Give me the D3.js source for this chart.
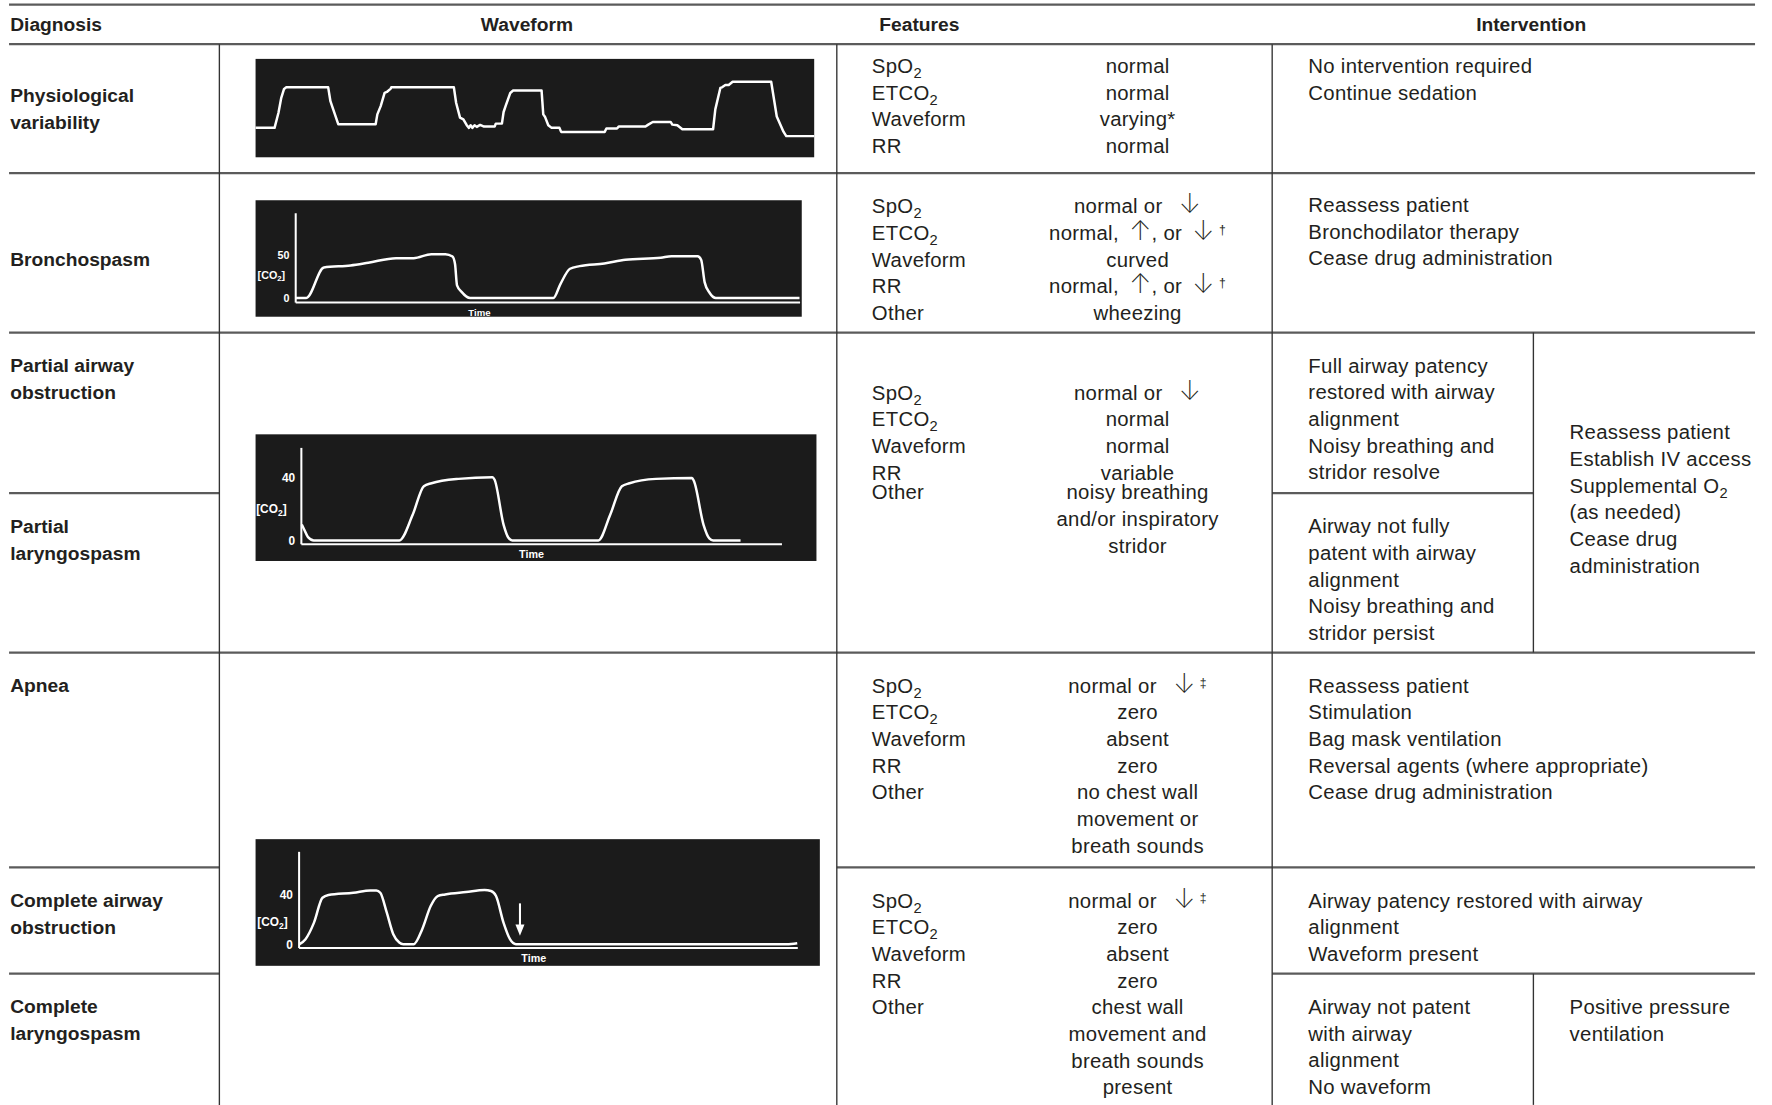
<!DOCTYPE html>
<html>
<head>
<meta charset="utf-8">
<script src="https://cdn.jsdelivr.net/npm/d3@7"></script>
<style>
  body { margin: 0; background: #fff; }
  svg { display: block; }
  .txt { font-family: "Liberation Sans", Arial, sans-serif; font-size: 18px; letter-spacing: 0.25px; fill: #231f20; white-space: pre; }
  .bold { font-family: "Liberation Sans", Arial, sans-serif; font-size: 17px; font-weight: bold; fill: #231f20; }
  .wave-label { font-family: "Liberation Sans", Arial, sans-serif; font-weight: bold; fill: #fff; }
  .arrow { font-family: Inter, "DejaVu Sans", sans-serif; font-weight: 200; }
</style>
</head>
<body>
<div id="chart"></div>
<script>
// ---- table text ----
const headers = ['Diagnosis', 'Waveform', 'Features', 'Intervention']

const diagnosisNames = [
  ['Physiological', 'variability'],
  ['Bronchospasm'],
  ['Partial airway', 'obstruction'],
  ['Partial', 'laryngospasm'],
  ['Apnea'],
  ['Complete airway', 'obstruction'],
  ['Complete', 'laryngospasm']
]

// _x = subscript char, ^x = superscript char, arrows get their own glyph style
const featuresVariability = [
  ['SpO_2', ['normal']], ['ETCO_2', ['normal']], ['Waveform', ['varying*']], ['RR', ['normal']]
]
const featuresBronchospasm = [
  ['SpO_2', ['normal or \u2002\u2193']],
  ['ETCO_2', ['normal, \u2009\u2191, or \u2009\u2193\u2009^\u2020']],
  ['Waveform', ['curved']],
  ['RR', ['normal, \u2009\u2191, or \u2009\u2193\u2009^\u2020']],
  ['Other', ['wheezing']]
]
const featuresPartial = [
  ['SpO_2', ['normal or \u2002\u2193']],
  ['ETCO_2', ['normal']],
  ['Waveform', ['normal']],
  ['RR', ['variable']],
  ['Other', ['noisy breathing', 'and/or inspiratory', 'stridor']]
]
const featuresApnea = [
  ['SpO_2', ['normal or \u2002\u2193\u2009^\u2021']],
  ['ETCO_2', ['zero']],
  ['Waveform', ['absent']],
  ['RR', ['zero']],
  ['Other', ['no chest wall', 'movement or', 'breath sounds']]
]
const featuresComplete = [
  ['SpO_2', ['normal or \u2002\u2193\u2009^\u2021']],
  ['ETCO_2', ['zero']],
  ['Waveform', ['absent']],
  ['RR', ['zero']],
  ['Other', ['chest wall', 'movement and', 'breath sounds', 'present']]
]

const interventionVariability = ['No intervention required', 'Continue sedation']
const interventionBronchospasm = ['Reassess patient', 'Bronchodilator therapy', 'Cease drug administration']
const interventionPartialObstruction = ['Full airway patency', 'restored with airway', 'alignment', 'Noisy breathing and', 'stridor resolve']
const interventionPartialLaryngospasm = ['Airway not fully', 'patent with airway', 'alignment', 'Noisy breathing and', 'stridor persist']
const interventionPartialShared = ['Reassess patient', 'Establish IV access', 'Supplemental O_2', '(as needed)', 'Cease drug', 'administration']
const interventionApnea = ['Reassess patient', 'Stimulation', 'Bag mask ventilation', 'Reversal agents (where appropriate)', 'Cease drug administration']
const interventionCompleteObstruction = ['Airway patency restored with airway', 'alignment', 'Waveform present']
const interventionCompleteLaryngospasm = ['Airway not patent', 'with airway', 'alignment', 'No waveform']
const interventionCompleteShared = ['Positive pressure', 'ventilation']

// ---- waveform traces: [time, value] ----
// physiological variability: time 0-100, value 0-100 (% of screen height)
const variabilityTrace = [
  [0, 29.9], [3.4, 29.9], [4.1, 45.3], [4.6, 60.4], [5.1, 69.5], [5.5, 71.1], [13.0, 71.1],
  [13.4, 57], [13.7, 52], [14.8, 33.6], [21.5, 33.6], [21.8, 43.6], [22.4, 52], [23.1, 65.4],
  [23.5, 66.4], [24.2, 69.8], [24.3, 71.1], [35.5, 71.1], [35.9, 55.4], [36.6, 40.3], [37.2, 38.6],
  [37.8, 32.6], [38.2, 29.9], [38.5, 32.6], [38.8, 29.9], [39.2, 32.6], [39.6, 30.9], [40.2, 32.9],
  [40.9, 31.2], [42.8, 31.2], [43.0, 34.2], [44.1, 34.2], [44.4, 46], [44.8, 52.7], [45.6, 65.4],
  [46.1, 67.8], [51.2, 67.8], [51.5, 43.6], [51.8, 41.3], [52.4, 32.6], [53.0, 29.9], [54.4, 29.9],
  [54.7, 25.8], [62.5, 25.8], [62.8, 29.2], [64.7, 29.2], [65.0, 31.2], [69.8, 31.2], [70.3, 33.2],
  [71.1, 35.9], [74.3, 35.9], [74.6, 33.2], [75.5, 32.6], [76.4, 28.5], [81.9, 28.5], [82.3, 48.7],
  [83.2, 70.5], [83.5, 71.1], [84.1, 73.5], [84.7, 73.5], [85.4, 76.8], [92.3, 76.8], [93.3, 41.5],
  [94.5, 26], [95.0, 21.5], [100, 21.5]
]
// bronchospasm: time 0-100, [CO2] mmHg
const bronchospasmTrace = [
  [0, 0], [2.2, 0], [5.7, 35], [11, 37.4], [14.5, 40.5], [20, 45.8], [23.5, 45.8], [27, 50.4],
  [29.8, 50.4], [31.2, 47.7], [31.7, 39], [32.1, 14.5], [33, 7], [34.7, 0], [51.2, 0], [52.6, 16],
  [54.5, 33.6], [56.4, 36.6], [61.3, 39.7], [65.5, 43.9], [72.5, 46.2], [74.6, 48], [79.8, 48],
  [80.5, 44], [81.2, 18], [82.2, 5.7], [83.4, 0], [100, 0]
]
// partial obstruction / laryngospasm
const partialTrace = [
  [0.2, 10.2], [0.7, 7], [1.5, 2.1], [2.7, 0], [20.5, 0], [23.3, 16.6], [25.6, 34.7], [27.2, 36.6],
  [32.8, 39.4], [39.9, 40.4], [40.3, 39], [42.2, 10], [43.2, 1.7], [44, 0], [61.9, 0], [64.4, 16.6],
  [66.8, 34.7], [68.4, 36.6], [73.9, 39.4], [81.4, 40], [81.8, 38], [83.8, 10], [85, 1.3],
  [85.8, 0], [91.5, 0]
]
// complete obstruction / laryngospasm
const completeTrace = [
  [0.2, 0], [1.4, 4], [3.1, 17.3], [4.8, 37.3], [6, 39.5], [11, 41.3], [14.4, 43.2], [15.6, 43.2],
  [16.4, 41.3], [17.7, 25.3], [19, 8], [20.2, 1.3], [21, 0], [23.1, 0], [24.8, 12], [26.5, 30.7],
  [27.9, 38.7], [29.4, 40], [33.6, 41.9], [37.3, 43.5], [38.6, 42.7], [39.6, 38.7], [41.1, 17.3],
  [42.4, 4], [43.6, 0], [97.9, 0], [100, 0.8]
]
const obstructionArrow = [[44.4, 32.8], [44.4, 6.7]]

// ---- layout (design units, scaled to 1772 x 1105) ----
const W = 1567, H = 977
const LH = 23.6
const svg = d3.select('#chart').append('svg')
  .attr('width', 1772).attr('height', 1105)
  .attr('viewBox', `0 0 ${W} ${H}`)

svg.append('rect').attr('width', W).attr('height', H).attr('fill', '#fff')

function richText (sel, str) {
  str.split(/([_^].|[\u2191\u2193])/).filter(s => s !== '').forEach(p => {
    if (p.length === 2 && p[0] === '_') {
      sel.append('tspan').attr('baseline-shift', '-30%').attr('font-size', '72%').text(p[1])
    } else if (p.length === 2 && p[0] === '^') {
      sel.append('tspan').attr('baseline-shift', '50%').attr('font-size', '60%').text(p[1])
    } else if (p === '\u2191' || p === '\u2193') {
      sel.append('tspan').attr('class', 'arrow').attr('font-size', '130%').text(p)
    } else {
      sel.append('tspan').text(p)
    }
  })
}

function textLines (lines, x, y, cls, anchor) {
  lines.forEach((line, i) => {
    const t = svg.append('text').attr('class', cls)
      .attr('x', x).attr('y', y + i * LH).attr('dy', '0.36em')
      .attr('text-anchor', anchor || 'start')
    richText(t, line)
  })
}

// rules
const hRules = [
  [4, 8, 1552], [39, 8, 1552], [153, 8, 1552], [294, 8, 1552],
  [436, 8, 194], [436, 1125, 1356], [577, 8, 1552],
  [767, 8, 194], [767, 740, 1552], [861, 8, 194], [861, 1125, 1552]
]
const vRules = [[194, 39, 977], [740, 39, 977], [1125, 39, 977], [1356, 294, 577], [1356, 861, 977]]

svg.selectAll('.hrule').data(hRules).enter().append('line')
  .attr('x1', d => d[1]).attr('x2', d => d[2]).attr('y1', d => d[0]).attr('y2', d => d[0])
  .attr('stroke', '#5b5b5b').attr('stroke-width', 2)
svg.selectAll('.vrule').data(vRules).enter().append('line')
  .attr('x1', d => d[0]).attr('x2', d => d[0]).attr('y1', d => d[1]).attr('y2', d => d[2])
  .attr('stroke', '#333').attr('stroke-width', 1.2)

// header
const headerX = [9, 466, 813, 1354]
headers.forEach((h, i) => {
  svg.append('text').attr('class', 'bold').attr('x', headerX[i]).attr('y', 21).attr('dy', '0.36em')
    .attr('text-anchor', i === 0 ? 'start' : 'middle').text(h)
})

// diagnosis column
const diagnosisY = [84, 229, 323, 465, 606, 796, 890]
diagnosisNames.forEach((lines, i) => textLines(lines, 9, diagnosisY[i], 'bold'))

// features column
const featureBlocks = [
  { rows: featuresVariability, y: 58 },
  { rows: featuresBronchospasm, y: 182 },
  { rows: featuresPartial, y: 347, otherY: 435 },
  { rows: featuresApnea, y: 606 },
  { rows: featuresComplete, y: 796 }
]
featureBlocks.forEach(b => {
  b.rows.forEach((row, i) => {
    const y = (row[0] === 'Other' && b.otherY) ? b.otherY : b.y + i * LH
    textLines([row[0]], 771, y, 'txt')
    textLines(row[1], 1006, y, 'txt', 'middle')
  })
})

// intervention column
const interventionBlocks = [
  { lines: interventionVariability, x: 1157, y: 58 },
  { lines: interventionBronchospasm, x: 1157, y: 181 },
  { lines: interventionPartialObstruction, x: 1157, y: 323 },
  { lines: interventionPartialLaryngospasm, x: 1157, y: 465 },
  { lines: interventionPartialShared, x: 1388, y: 382 },
  { lines: interventionApnea, x: 1157, y: 606 },
  { lines: interventionCompleteObstruction, x: 1157, y: 796 },
  { lines: interventionCompleteLaryngospasm, x: 1157, y: 890 },
  { lines: interventionCompleteShared, x: 1388, y: 890 }
]
interventionBlocks.forEach(b => textLines(b.lines, b.x, b.y, 'txt'))

// waveforms
const waveforms = [
  { trace: variabilityTrace, box: [226, 52, 494, 87], xRange: [226, 720], yDomain: [0, 100], yRange: [139, 52], curve: d3.curveLinear },
  { trace: bronchospasmTrace, box: [226, 177, 483, 103], xRange: [261, 707], yDomain: [-4.6, 98], yRange: [267, 188],
    ticks: [0, 50], fs: 9.5, co2: [240, 243], time: [424, 276], curve: d3.curveMonotoneX },
  { trace: partialTrace, box: [226, 384, 496, 112], xRange: [266, 691], yDomain: [-2.1, 59.6], yRange: [480.7, 395.5],
    ticks: [0, 40], fs: 10.5, co2: [240, 449.5], time: [470, 490], curve: d3.curveMonotoneX },
  { trace: completeTrace, box: [226, 742, 499, 112], xRange: [264, 705], yDomain: [-2.7, 74.7], yRange: [837.8, 752.7],
    ticks: [0, 40], fs: 10.5, co2: [241, 815], time: [472, 847], curve: d3.curveMonotoneX, arrow: obstructionArrow }
]

waveforms.forEach(wf => {
  const g = svg.append('g')
  g.append('rect').attr('x', wf.box[0]).attr('y', wf.box[1]).attr('width', wf.box[2]).attr('height', wf.box[3])
    .attr('fill', '#1b1b1b')
  const x = d3.scaleLinear().domain([0, 100]).range(wf.xRange)
  const y = d3.scaleLinear().domain(wf.yDomain).range(wf.yRange)

  if (wf.ticks) {
    const ya = g.append('g').attr('transform', `translate(${wf.xRange[0]},0)`)
      .call(d3.axisLeft(y).tickValues(wf.ticks).tickSize(0).tickSizeOuter(0).tickPadding(5))
    const xa = g.append('g').attr('transform', `translate(0,${wf.yRange[0]})`)
      .call(d3.axisBottom(x).tickValues([]).tickSizeOuter(0))
    ya.select('.domain').attr('stroke', '#fff').attr('stroke-width', 1.8)
    xa.select('.domain').attr('stroke', '#fff').attr('stroke-width', 1.8)
    ya.selectAll('text').attr('class', 'wave-label').attr('fill', '#fff')
      .attr('font-size', wf.fs).attr('font-family', '"Liberation Sans", Arial, sans-serif')
    ya.attr('font-family', null).attr('font-size', null)

    const c = g.append('text').attr('class', 'wave-label').attr('font-size', wf.fs)
      .attr('x', wf.co2[0]).attr('y', wf.co2[1]).attr('dy', '0.36em').attr('text-anchor', 'middle')
    richText(c, '[CO_2]')
    g.append('text').attr('class', 'wave-label').attr('font-size', wf.fs - 1)
      .attr('x', wf.time[0]).attr('y', wf.time[1]).attr('dy', '0.36em').attr('text-anchor', 'middle').text('Time')
  }

  const line = d3.line().x(d => x(d[0])).y(d => y(d[1])).curve(wf.curve)
  g.append('path').datum(wf.trace).attr('d', line)
    .attr('fill', 'none').attr('stroke', '#fff').attr('stroke-width', 2.2).attr('stroke-linejoin', 'round')

  if (wf.arrow) {
    const [p0, p1] = wf.arrow
    const ax = x(p0[0]), ay0 = y(p0[1]), ay1 = y(p1[1])
    g.append('line').attr('x1', ax).attr('x2', ax).attr('y1', ay0).attr('y2', ay1 - 8)
      .attr('stroke', '#fff').attr('stroke-width', 1.8)
    g.append('path').attr('d', `M${ax - 4},${ay1 - 10}L${ax + 4},${ay1 - 10}L${ax},${ay1}Z`).attr('fill', '#fff')
  }
})
</script>
</body>
</html>
